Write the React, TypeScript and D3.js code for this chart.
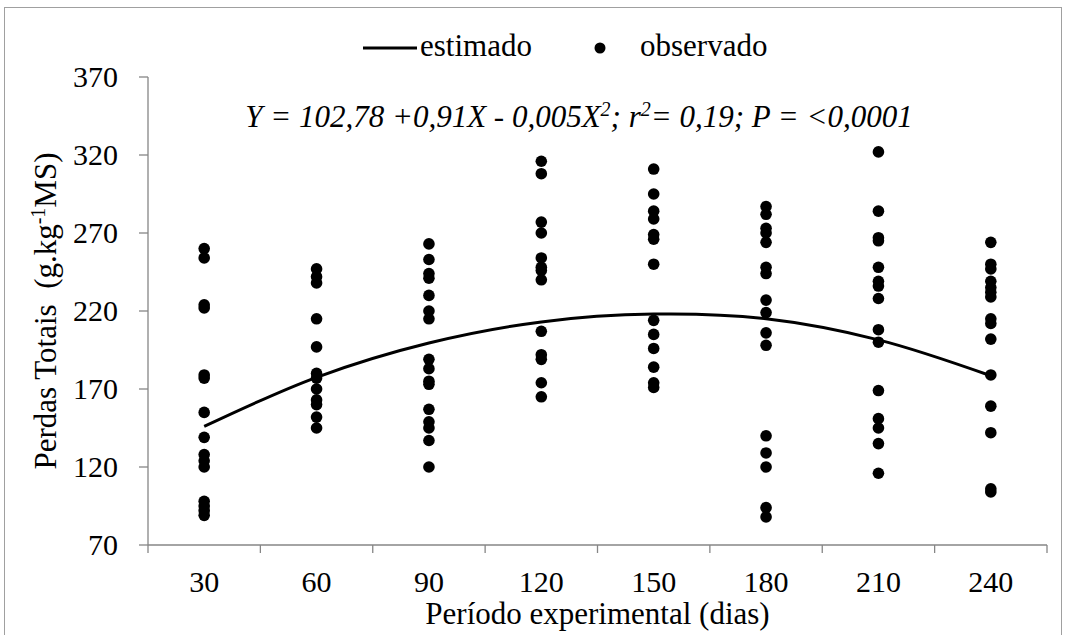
import React from "react";
import * as d3 from "d3";

const days = [30, 60, 90, 120, 150, 180, 210, 240];
const estimated = [146, 177.5, 199.5, 213, 218, 215, 201.5, 178.5];
const obs30 = [260, 254, 224, 222, 179, 177, 155, 139, 128, 124, 120, 98, 95, 92, 89];
const obs60 = [247, 242, 238, 215, 197, 180, 177, 170, 163, 160, 152, 145];
const obs90 = [263, 253, 244, 241, 230, 220, 215, 189, 183, 175, 173, 157, 149, 145, 137, 120];
const obs120 = [316, 308, 277, 270, 254, 248, 246, 240, 207, 192, 189, 174, 165];
const obs150 = [311, 295, 284, 279, 269, 266, 250, 214, 205, 196, 184, 174, 171];
const obs180 = [287, 282, 273, 270, 264, 248, 244, 227, 219, 206, 198, 140, 129, 120, 94, 88];
const obs210 = [322, 284, 267, 265, 248, 239, 236, 228, 208, 200, 169, 151, 145, 135, 116];
const obs240 = [264, 250, 247, 239, 235, 232, 229, 215, 212, 202, 179, 159, 142, 106, 104];
const observed = [obs30, obs60, obs90, obs120, obs150, obs180, obs210, obs240];
const yTicks = [70, 120, 170, 220, 270, 320, 370];
const xBoundaries = [15, 45, 75, 105, 135, 165, 195, 225, 255];

const W = 1067;
const H = 635;
const AXIS = "#868686";
const FF = "Liberation Serif";

export default function App() {
  const x = d3.scaleLinear().domain([15, 255]).range([148, 1047]);
  const y = d3.scaleLinear().domain([70, 370]).range([545, 77]);
  const line = d3
    .line<number>()
    .x((_, i) => x(days[i]))
    .y((d) => y(d))
    .curve(d3.curveCatmullRom.alpha(0.5));

  return (
    <div style={{ fontFamily: FF }}>
      <svg
        width={W}
        height={H}
        fontFamily={FF}
        style={{ position: "absolute", left: 0, top: 0, fontFamily: FF }}
      >
        <rect x={4.5} y={7.5} width={1057} height={640} fill="#fff" stroke="#a0a0a0" strokeWidth={1} />

        {/* Legend */}
        <line x1={363} x2={417} y1={48} y2={48} stroke="#000" strokeWidth={3} />
        <text x={420} y={56} fontSize={31} fontFamily={FF} style={{ fontFamily: FF }}>estimado</text>
        <circle cx={600} cy={48} r={5.5} fill="#000" />
        <text x={640} y={56} fontSize={31} fontFamily={FF} style={{ fontFamily: FF }}>observado</text>

        {/* Y axis */}
        <line x1={148} x2={148} y1={y(370)} y2={y(70)} stroke={AXIS} strokeWidth={1.3} />
        {yTicks.map((t) => (
          <g key={t}>
            <line x1={139} x2={148} y1={y(t)} y2={y(t)} stroke={AXIS} strokeWidth={1.3} />
            <text x={118} y={y(t)} dy="0.33em" textAnchor="end" fontSize={30} fontFamily={FF} style={{ fontFamily: FF }}>
              {t}
            </text>
          </g>
        ))}

        {/* X axis */}
        <line x1={x(15)} x2={x(255)} y1={545} y2={545} stroke={AXIS} strokeWidth={1.3} />
        {xBoundaries.map((b) => (
          <line key={b} x1={x(b)} x2={x(b)} y1={545} y2={553} stroke={AXIS} strokeWidth={1.3} />
        ))}
        {days.map((d) => (
          <text key={d} x={x(d)} y={592} textAnchor="middle" fontSize={30} fontFamily={FF} style={{ fontFamily: FF }}>
            {d}
          </text>
        ))}
        <text x={(x(15) + x(255)) / 2} y={624} textAnchor="middle" fontSize={31} fontFamily={FF} style={{ fontFamily: FF }}>
          Período experimental (dias)
        </text>

        {/* Y label */}
        <text
          transform={`translate(56, ${(y(70) + y(370)) / 2}) rotate(-90)`}
          textAnchor="middle"
          fontSize={31}
          fontFamily={FF}
          style={{ fontFamily: FF, whiteSpace: "pre" }}
        >
          <tspan>{"Perdas Totais  (g.kg"}</tspan>
          <tspan fontSize={20} dy={-11}>-1</tspan>
          <tspan dy={11}>MS)</tspan>
        </text>

        {/* Equation */}
        <text x={579} y={127} textAnchor="middle" fontSize={31} fontStyle="italic" fontFamily={FF} style={{ fontFamily: FF }}>
          <tspan>Y = 102,78 +0,91X - 0,005X</tspan>
          <tspan fontSize={20} dy={-11}>2</tspan>
          <tspan dy={11}>; r</tspan>
          <tspan fontSize={20} dy={-11}>2</tspan>
          <tspan dy={11}>= 0,19; P = &lt;0,0001</tspan>
        </text>

        {/* Curve */}
        <path d={line(estimated) || ""} fill="none" stroke="#000" strokeWidth={3} />

        {/* Observed points */}
        {observed.map((col, i) =>
          col.map((v, j) => (
            <circle key={`${i}-${j}`} cx={x(days[i])} cy={y(v)} r={5.8} fill="#000" />
          ))
        )}
      </svg>
    </div>
  );
}
